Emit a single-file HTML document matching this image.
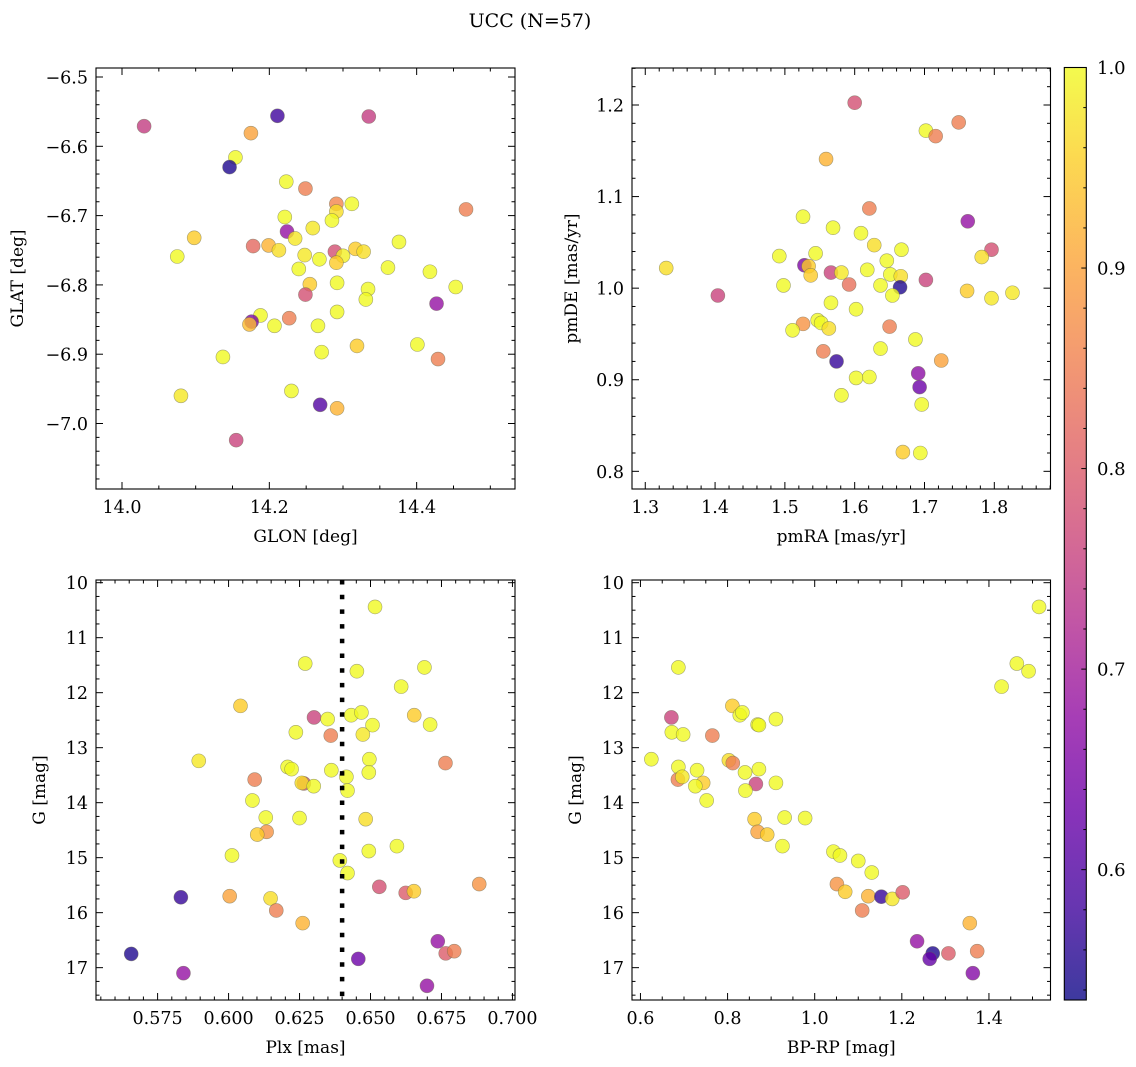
<!DOCTYPE html>
<html><head><meta charset="utf-8"><style>
html,body{margin:0;padding:0;background:#fff;}
svg{display:block;font-family:"DejaVu Serif","Liberation Serif",serif;}
</style></head><body>
<svg id="fig" width="1136" height="1067" viewBox="0 0 1136 1067" xmlns="http://www.w3.org/2000/svg">
<defs>
<linearGradient id="cbgrad" x1="0" y1="1" x2="0" y2="0"></linearGradient>
</defs>
<text x="530" y="27" font-size="19" text-anchor="middle">UCC (N=57)</text>
</svg>
<script>
// Panel 1: GLON vs GLAT
const glon1=[14.030,14.211,14.335,14.175,14.154,14.146,14.223,14.249,14.291,14.312,14.467,14.291,14.285,14.221,14.259,14.224,14.235,14.098,14.376,14.178,14.199,14.213,14.289,14.317,14.328,14.248,14.300,14.075,14.268,14.291,14.418,14.361,14.240,14.255,14.292,14.249,14.334,14.331,14.453,14.427,14.292,14.188,14.176,14.173,14.227,14.207,14.266,14.319,14.271,14.401,14.429,14.137,14.230,14.080,14.269,14.292,14.155];
const glat1=[-6.571,-6.556,-6.557,-6.581,-6.616,-6.630,-6.651,-6.661,-6.683,-6.683,-6.691,-6.694,-6.707,-6.702,-6.718,-6.723,-6.733,-6.732,-6.738,-6.744,-6.743,-6.750,-6.752,-6.748,-6.752,-6.757,-6.758,-6.759,-6.763,-6.768,-6.781,-6.775,-6.777,-6.799,-6.797,-6.814,-6.806,-6.821,-6.803,-6.827,-6.839,-6.844,-6.853,-6.857,-6.848,-6.859,-6.859,-6.888,-6.897,-6.886,-6.907,-6.904,-6.953,-6.960,-6.973,-6.978,-7.024];
const prob1=[0.75,0.58,0.75,0.90,1.0,0.55,1.0,0.85,0.86,1.0,0.85,0.97,1.0,1.0,0.98,0.68,0.98,0.95,1.0,0.82,0.92,0.97,0.78,0.95,0.97,0.98,0.99,1.0,1.0,0.95,1.0,1.0,1.0,0.95,1.0,0.78,1.0,1.0,1.0,0.68,1.0,1.0,0.65,0.93,0.85,1.0,1.0,0.95,1.0,1.0,0.85,1.0,1.0,0.98,0.60,0.92,0.76];
// Panel 2: pmRA vs pmDE
const pmra2=[1.600,1.749,1.702,1.716,1.559,1.621,1.762,1.526,1.569,1.609,1.628,1.667,1.796,1.782,1.492,1.544,1.646,1.528,1.534,1.537,1.566,1.581,1.618,1.651,1.666,1.702,1.592,1.498,1.665,1.637,1.761,1.826,1.330,1.404,1.654,1.796,1.566,1.602,1.547,1.552,1.563,1.526,1.511,1.650,1.687,1.637,1.555,1.574,1.724,1.602,1.621,1.691,1.693,1.581,1.696,1.669,1.694];
const pmde2=[1.2025,1.181,1.172,1.166,1.141,1.087,1.073,1.078,1.066,1.060,1.047,1.042,1.042,1.034,1.035,1.038,1.030,1.025,1.024,1.014,1.017,1.017,1.020,1.015,1.013,1.009,1.004,1.003,1.001,1.003,0.997,0.995,1.022,0.992,0.992,0.989,0.984,0.977,0.965,0.962,0.956,0.961,0.954,0.958,0.944,0.934,0.931,0.920,0.921,0.902,0.903,0.907,0.892,0.883,0.873,0.821,0.820];
const prob2=[0.78,0.85,1.0,0.85,0.92,0.85,0.68,1.0,1.0,1.0,0.97,1.0,0.78,0.97,1.0,1.0,1.0,0.65,0.95,0.95,0.76,0.98,1.0,1.0,0.97,0.76,0.83,1.0,0.55,1.0,0.95,0.98,0.97,0.76,1.0,0.98,1.0,1.0,1.0,1.0,0.97,0.88,1.0,0.85,1.0,1.0,0.85,0.57,0.90,1.0,1.0,0.67,0.63,1.0,1.0,0.95,1.0];
// Panel 3: Plx vs G
const plx3=[0.6516,0.6270,0.6452,0.6690,0.6608,0.6042,0.6301,0.6349,0.6432,0.6468,0.6654,0.6710,0.6507,0.6237,0.6360,0.6473,0.5895,0.6496,0.6764,0.6208,0.6222,0.6362,0.6494,0.6415,0.6092,0.6265,0.6258,0.6300,0.6419,0.6084,0.6131,0.6250,0.6483,0.6134,0.6101,0.6012,0.6593,0.6494,0.6392,0.6419,0.6531,0.6883,0.6624,0.6653,0.5832,0.6004,0.6148,0.6168,0.6261,0.6737,0.6765,0.6795,0.5657,0.6457,0.5841,0.6699];
const g3=[10.44,11.47,11.61,11.54,11.89,12.24,12.45,12.48,12.41,12.36,12.41,12.58,12.59,12.72,12.78,12.76,13.24,13.21,13.28,13.35,13.39,13.41,13.45,13.53,13.58,13.65,13.64,13.70,13.78,13.96,14.27,14.28,14.30,14.53,14.58,14.96,14.79,14.88,15.05,15.28,15.53,15.48,15.64,15.61,15.72,15.70,15.74,15.96,16.19,16.52,16.74,16.70,16.75,16.84,17.10,17.33];
const prob3=[1.0,1.0,1.0,1.0,1.0,0.95,0.76,1.0,1.0,1.0,0.95,1.0,1.0,1.0,0.85,0.98,0.98,1.0,0.85,1.0,1.0,1.0,1.0,1.0,0.85,0.78,0.97,1.0,1.0,1.0,1.0,1.0,0.97,0.88,0.95,1.0,1.0,1.0,1.0,1.0,0.78,0.88,0.80,0.95,0.57,0.90,0.97,0.85,0.92,0.68,0.80,0.85,0.55,0.63,0.68,0.68];
const plxLine=0.64;
// Panel 4: BP-RP vs G
const bprp4=[1.515,1.464,1.491,1.429,0.687,0.811,0.828,0.834,0.671,0.869,0.872,0.911,0.672,0.698,0.765,0.625,0.803,0.812,0.687,0.730,0.872,0.840,0.686,0.696,0.744,0.726,0.865,0.911,0.841,0.752,0.862,0.931,0.978,0.869,0.891,0.926,1.043,1.058,1.100,1.131,1.051,1.070,1.123,1.153,1.178,1.202,1.109,1.356,1.235,1.271,1.264,1.307,1.373,1.363];
const g4=[10.44,11.47,11.61,11.89,11.54,12.24,12.41,12.36,12.45,12.58,12.59,12.48,12.72,12.76,12.78,13.21,13.23,13.28,13.35,13.41,13.39,13.45,13.58,13.53,13.64,13.70,13.66,13.64,13.78,13.96,14.30,14.27,14.28,14.53,14.58,14.79,14.89,14.96,15.06,15.27,15.48,15.62,15.70,15.71,15.75,15.63,15.96,16.19,16.52,16.74,16.84,16.74,16.70,17.10];
const prob4=[1.0,1.0,1.0,1.0,1.0,0.95,1.0,1.0,0.76,1.0,1.0,1.0,1.0,1.0,0.85,1.0,0.97,0.85,1.0,1.0,1.0,1.0,0.85,0.98,0.95,1.0,0.76,1.0,1.0,1.0,0.95,1.0,1.0,0.90,0.95,1.0,1.0,1.0,1.0,1.0,0.88,0.95,0.92,0.57,0.98,0.80,0.85,0.92,0.68,0.55,0.62,0.80,0.85,0.66];
// Colorbar
const cbTicks=[0.6,0.7,0.8,0.9,1.0];
const cMin=0.535, cMax=1.0;

const NS="http://www.w3.org/2000/svg";
const svg=document.getElementById('fig');
function el(tag,attrs,parent){const e=document.createElementNS(NS,tag);for(const k in attrs)e.setAttribute(k,attrs[k]);(parent||svg).appendChild(e);return e;}
const stops=[[0,'#0d0887'],[0.1,'#41049d'],[0.2,'#6a00a8'],[0.3,'#8f0da4'],[0.4,'#b12a90'],[0.5,'#cc4778'],[0.6,'#e16462'],[0.7,'#f2844b'],[0.8,'#fca636'],[0.9,'#fcce25'],[1,'#f0f921']];
function hex(h){return [parseInt(h.substr(1,2),16),parseInt(h.substr(3,2),16),parseInt(h.substr(5,2),16)];}
function plasma(v){let t=(v-cMin)/(cMax-cMin);t=Math.max(0,Math.min(1,t));
 for(let i=1;i<stops.length;i++){if(t<=stops[i][0]){const a=stops[i-1],b=stops[i];const f=(t-a[0])/(b[0]-a[0]);const ca=hex(a[1]),cb=hex(b[1]);return 'rgb('+ca.map((c,j)=>Math.round(c+(cb[j]-c)*f)).join(',')+')';}}return stops[10][1];}
function fmtNum(v,d){const s=Math.abs(v).toFixed(d);return (v<0?'\u2212':'')+s;}

function panel(cfg){
 const g=el('g',{});
 
 
 const {L,T,R,B}=cfg;
 const sx=v=>L+(v-cfg.x0)/(cfg.x1-cfg.x0)*(R-L);
 const sy=v=>T+(v-cfg.y0)/(cfg.y1-cfg.y0)*(B-T);
 const tg=el('g',{stroke:'#000','stroke-width':1},g);
 
 
 const xlo=Math.min(cfg.x0,cfg.x1),xhi=Math.max(cfg.x0,cfg.x1),ylo=Math.min(cfg.y0,cfg.y1),yhi=Math.max(cfg.y0,cfg.y1);
 for(let k=Math.ceil(xlo/cfg.xmin-1e-6);k*cfg.xmin<=xhi+1e-9;k++){const v=k*cfg.xmin;const x=sx(v);const maj=cfg.xmaj.some(m=>Math.abs(m-v)<1e-6);const len=maj?7:3.5;
  el('line',{x1:x,y1:B,x2:x,y2:B-len},tg);el('line',{x1:x,y1:T,x2:x,y2:T+len},tg);}
 for(let k=Math.ceil(ylo/cfg.ymin-1e-6);k*cfg.ymin<=yhi+1e-9;k++){const v=k*cfg.ymin;const y=sy(v);const maj=cfg.ymaj.some(m=>Math.abs(m-v)<1e-6);const len=maj?7:3.5;
  el('line',{x1:L,y1:y,x2:L+len,y2:y},tg);el('line',{x1:R,y1:y,x2:R-len,y2:y},tg);}
 cfg.xmaj.forEach(v=>{const t=el('text',{x:sx(v),y:B+24,'font-size':cfg.xfs||17.5,'text-anchor':'middle'},g);t.textContent=fmtNum(v,cfg.xd);
  });
 cfg.ymaj.forEach(v=>{const t=el('text',{x:L-8,y:sy(v)+6.5,'font-size':17.5,'text-anchor':'end'},g);t.textContent=fmtNum(v,cfg.yd);
  });
 const pg=el('g',{},g);
 
 
 cfg.xs.forEach((xv,i)=>{const c=el('circle',{cx:sx(xv),cy:sy(cfg.ys[i]),r:7,fill:plasma(cfg.cs[i]),'fill-opacity':0.8,stroke:'#6a6a50','stroke-opacity':0.6,'stroke-width':0.6},pg);
  });
 if(cfg.vline!==undefined){const x=sx(cfg.vline);const l=el('line',{x1:x,y1:T,x2:x,y2:B,stroke:'#000','stroke-width':4.5,'stroke-dasharray':'4.5 10.2'},g);
  }
 const fr=el('rect',{x:L,y:T,width:R-L,height:B-T,fill:'none',stroke:'#000','stroke-width':1.1},g);
 
 const xl=el('text',{x:(L+R)/2,y:B+53,'font-size':17,'text-anchor':'middle'},g);xl.textContent=cfg.xlabel;
 
 const yl=el('text',{x:0,y:0,'font-size':17,'text-anchor':'middle',transform:'translate('+cfg.ylx+','+(T+B)/2+') rotate(-90)'},g);yl.textContent=cfg.ylabel;
 
}
panel({name:'glon-glat-panel',L:96,T:68,R:515,B:489,x0:13.9647,x1:14.5335,y0:-6.487,y1:-7.0945,xmaj:[14.0,14.2,14.4],xmin:0.05,xd:1,ymaj:[-6.5,-6.6,-6.7,-6.8,-6.9,-7.0],ymin:0.02,yd:1,xs:glon1,ys:glat1,cs:prob1,xlabel:'GLON [deg]',ylabel:'GLAT [deg]',ylx:23});
panel({name:'pm-panel',L:632,T:68,R:1050.5,B:489,x0:1.281,x1:1.8805,y0:1.2404,y1:0.7807,xmaj:[1.3,1.4,1.5,1.6,1.7,1.8],xmin:0.02,xd:1,ymaj:[0.8,0.9,1.0,1.1,1.2],ymin:0.02,yd:1,xs:pmra2,ys:pmde2,cs:prob2,xlabel:'pmRA [mas/yr]',ylabel:'pmDE [mas/yr]',ylx:577});
panel({name:'plx-g-panel',L:96,T:580,R:515,B:1000,x0:0.5533,x1:0.7009,y0:9.951,y1:17.588,xmaj:[0.575,0.6,0.625,0.65,0.675,0.7],xmin:0.005,xd:3,ymaj:[10,11,12,13,14,15,16,17],ymin:0.25,yd:0,xs:plx3,ys:g3,cs:prob3,xlabel:'Plx [mas]',ylabel:'G [mag]',ylx:45,vline:plxLine});
panel({name:'cmd-panel',L:632,T:580,R:1050.5,B:1000,x0:0.5806,x1:1.5413,y0:9.951,y1:17.588,xmaj:[0.6,0.8,1.0,1.2,1.4],xmin:0.05,xd:1,ymaj:[10,11,12,13,14,15,16,17],ymin:0.25,yd:0,xs:bprp4,ys:g4,cs:prob4,xlabel:'BP-RP [mag]',ylabel:'G [mag]',ylx:581});

const grad=document.getElementById('cbgrad');
for(let i=0;i<=20;i++){const t=i/20;const v=cMin+t*(cMax-cMin);el('stop',{offset:t,'stop-color':plasma(v),'stop-opacity':0.8},grad);}
const cbL=1064.3,cbR=1086.3,cbT=67.5,cbB=1000;
const cy=v=>cbB-(v-cMin)/(cMax-cMin)*(cbB-cbT);
const cb=el('g',{});


el('rect',{x:cbL,y:cbT,width:cbR-cbL,height:cbB-cbT,fill:'url(#cbgrad)',stroke:'#000','stroke-width':1.1},cb);
for(let k=27;k<=50;k++){const v=k*0.02;if(v<cMin)continue;const y=cy(v);const maj=Math.abs(v*10-Math.round(v*10))<1e-6;el('line',{x1:cbR,y1:y,x2:cbR-(maj?5:3),y2:y,stroke:'#000','stroke-width':1},cb);}
cbTicks.forEach(v=>{const t=el('text',{x:1097,y:cy(v)+6.5,'font-size':18},cb);t.textContent=v.toFixed(1);
 });
</script>
</body></html>
